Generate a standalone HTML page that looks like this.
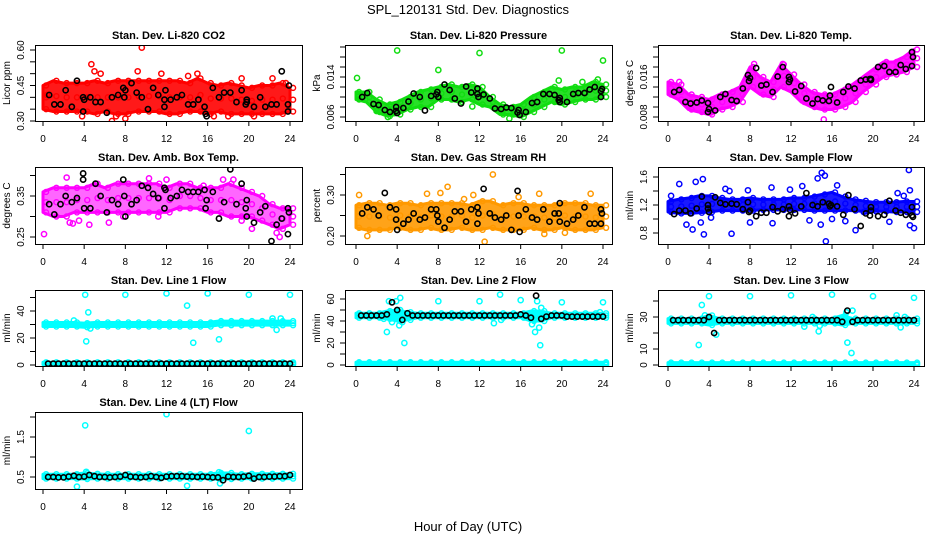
<!DOCTYPE html>
<html><head><meta charset="utf-8"><style>
body{margin:0;background:#fff;}
svg{display:block;font-family:"Liberation Sans",sans-serif;}
</style></head><body>
<svg id="chart" width="936" height="540" viewBox="0 0 936 540" xmlns="http://www.w3.org/2000/svg">
<rect width="936" height="540" fill="#fff"/>
<text x="468" y="14" text-anchor="middle" font-size="13">SPL_120131  Std. Dev. Diagnostics</text>
<text x="468" y="531" text-anchor="middle" font-size="13">Hour of Day (UTC)</text>
</svg>
<script>
const hours=[0,1,2,3,4,5,6,7,8,9,10,11,12,13,14,15,16,17,18,19,20,21,22,23,24];
const xTicks=[0,4,8,12,16,20,24];
const meanT=[0.6,1.1,1.7,2.2,2.8,3.3,3.9,3.9,4.0,4.6,5.1,5.6,6.2,6.7,7.3,7.8,7.9,8.0,8.6,9.1,9.6,10.2,10.7,11.2,11.8,11.8,11.9,12.4,13.0,13.5,14.1,14.6,15.1,15.7,15.8,15.9,16.5,17.1,17.6,18.2,18.8,19.3,19.7,19.8,19.8,20.5,21.1,21.6,22.2,22.7,23.2,23.8,23.8,23.9];
const flowT=[0.5,1,1.5,2,2.5,3,3.5,4,4.5,5,5.5,6,6.5,7,7.5,8,8.5,9,9.5,10,10.5,11,11.5,12,12.5,13,13.5,14,14.5,15,15.5,16,16.5,17,17.5,18,18.5,19,19.5,20,20.5,21,21.5,22,22.5,23,23.5,24];

// CO2
const co2Lo=[0.35,0.34,0.34,0.34,0.34,0.33,0.34,0.33,0.33,0.34,0.34,0.34,0.33,0.33,0.34,0.34,0.33,0.34,0.33,0.33,0.33,0.33,0.33,0.33,0.34];
const co2Hi=[0.45,0.47,0.46,0.46,0.46,0.47,0.46,0.47,0.47,0.47,0.47,0.47,0.47,0.47,0.46,0.48,0.46,0.45,0.46,0.45,0.44,0.45,0.45,0.46,0.44];
const co2OutX=[4.7,5,5.6,6.7,9.6,9.2,11.5,15,8,16.6,19.3,22.3,3.8,7.1,14.1,23.6,0.4,18,20.5];
const co2OutY=[0.54,0.51,0.50,0.30,0.61,0.51,0.50,0.50,0.31,0.32,0.48,0.48,0.32,0.32,0.49,0.46,0.41,0.32,0.32];
const co2Mean=[.41,.37,.37,.43,.36,.47,.40,.34,.39,.40,.38,.38,.335,.40,.41,.44,.40,.43,.46,.42,.40,.35,.44,.41,.39,.36,.43,.39,.40,.41,.37,.37,.39,.36,.33,.32,.44,.40,.42,.42,.38,.43,.37,.39,.38,.36,.40,.36,.37,.37,.51,.34,.37,.45];
// Pressure
const presLo=[.0095,.009,.007,.0062,.0065,.0075,.008,.008,.0095,.0095,.009,.0095,.0085,.008,.0065,.0065,.006,.007,.008,.009,.0085,.009,.0095,.0095,.010];
const presHi=[.011,.011,.0095,.0085,.009,.010,.011,.0115,.012,.0125,.012,.0125,.012,.010,.0085,.008,.0085,.010,.011,.012,.0115,.012,.012,.013,.0125];
const presOutX=[0.1,4,8,12,20,24,11.3,14.9,2,3.1,19.7,22,23.5];
const presOutY=[.0138,.0193,.0154,.0188,.0193,.0173,.0081,.0057,.0072,.0060,.0133,.0130,.0135];
const presMean=[.0100,.0108,.0086,.0084,.0074,.0070,.0072,.0080,.0068,.0078,.0091,.0107,.0100,.0073,.0102,.0105,.0110,.0100,.0125,.0114,.0097,.0087,.0121,.0109,.0117,.0106,.0100,.0105,.0097,.0077,.0076,.0079,.0078,.0069,.0074,.0064,.0070,.0088,.0090,.0106,.0106,.0104,.0094,.0090,.0098,.0090,.0106,.0108,.0108,.0115,.0120,.0112,.0100,.0116];
// Li-820 Temp
const tempLo=[.0125,.0115,.0095,.0090,.0085,.0095,.0100,.0110,.0140,.0125,.0120,.0140,.0130,.0110,.0100,.0095,.0095,.0100,.0110,.0130,.0145,.0160,.0165,.0170,.0180];
const tempHi=[.0150,.0145,.0125,.0120,.0115,.0125,.0130,.0140,.0180,.0160,.0150,.0185,.0165,.0145,.0130,.0125,.0125,.0135,.0145,.0160,.0175,.0190,.0190,.0200,.0215];
const tempOutX=[15.2,4.2,1.1,8.4,11.2];
const tempOutY=[.0075,.0089,.0150,.0186,.0186];
const tempMean=[.0130,.0134,.0110,.0107,.0109,.0113,.0108,.0090,.0096,.0093,.0120,.0126,.0114,.0112,.0137,.0164,.0152,.0158,.0178,.0143,.0145,.0130,.0161,.0180,.0160,.0150,.0155,.0131,.0142,.0117,.0107,.0116,.0113,.0112,.0123,.0140,.0109,.0130,.0141,.0137,.0153,.0155,.0156,.0156,.0154,.0180,.0182,.0170,.0170,.0184,.0176,.0182,.0210,.0200];
// Amb box temp
const boxLo=[.31,.30,.30,.31,.31,.31,.31,.31,.31,.31,.31,.31,.31,.32,.32,.32,.31,.31,.30,.30,.30,.29,.28,.27,.28];
const boxHi=[.36,.37,.37,.37,.37,.38,.37,.38,.38,.38,.38,.38,.37,.38,.38,.37,.37,.37,.38,.37,.36,.35,.33,.32,.32];
const boxOutX=[0.1,2.3,2.6,2.9,4.5,7.8,10.3,12,15.6,17.5,18.5,19.3,20.3,22.7,23,3.5,6.4,11.2];
const boxOutY=[.257,.395,.285,.283,.280,.30,.393,.39,.375,.39,.39,.29,.27,.26,.25,.29,.285,.30];
const boxMean=[.33,.305,.33,.35,.335,.345,.405,.39,.32,.32,.38,.35,.31,.34,.33,.39,.35,.30,.33,.34,.375,.37,.355,.345,.32,.37,.365,.345,.35,.365,.36,.36,.36,.365,.32,.34,.36,.295,.335,.415,.33,.38,.32,.30,.34,.285,.31,.325,.24,.28,.295,.32,.257,.31];
// Gas stream RH
const rhLo=[.22,.215,.215,.215,.22,.215,.215,.22,.215,.215,.22,.215,.215,.22,.215,.215,.215,.22,.215,.215,.22,.215,.215,.215,.22];
const rhHi=[.275,.28,.28,.275,.28,.28,.275,.28,.28,.28,.28,.275,.285,.285,.275,.28,.28,.275,.275,.275,.28,.28,.28,.275,.275];
const rhOutX=[0.3,1.1,6.9,8.2,8.9,10.5,11.4,12.5,13.3,15.8,17.8,18.3,22.8,20.3];
const rhOutY=[.30,.20,.303,.305,.32,.29,.30,.186,.35,.295,.303,.205,.303,.208];
const rhMean=[.255,.27,.265,.25,.305,.27,.265,.24,.215,.23,.24,.255,.24,.245,.265,.265,.25,.235,.22,.24,.26,.26,.235,.265,.27,.23,.255,.315,.255,.245,.24,.25,.215,.31,.25,.21,.265,.245,.24,.265,.235,.255,.255,.28,.235,.23,.24,.25,.27,.23,.23,.265,.23,.255];
// Sample flow
const sfLo=[1.10,1.08,1.08,1.09,1.10,1.12,1.12,1.12,1.12,1.13,1.13,1.13,1.13,1.13,1.12,1.12,1.12,1.12,1.12,1.11,1.11,1.11,1.10,1.10,1.10];
const sfHi=[1.25,1.28,1.30,1.33,1.33,1.30,1.28,1.28,1.30,1.28,1.28,1.28,1.30,1.30,1.32,1.35,1.38,1.32,1.28,1.26,1.24,1.24,1.24,1.25,1.25];
const sfOutX=[1.1,0.3,1.8,2.4,2.7,3.2,3.4,3.5,4.2,5.6,6,6.2,7.8,8,10.1,10.2,11.9,13.1,13.8,14.6,15,15.3,15.4,14.9,16,16.5,17.3,18.3,19.1,21.6,22.4,23,23.5,23.6,23.6,24];
const sfOutY=[1.5,1.33,0.92,0.85,1.53,0.95,1.57,0.78,1.02,1.43,1.4,0.79,1.41,0.95,1.45,0.94,1.42,1.47,0.98,1.58,1.66,1.62,0.68,0.92,1.0,1.48,0.97,0.84,1.1,0.96,1.37,1.33,1.7,1.41,0.91,0.87];
const sfMean=[1.07,1.12,1.12,1.08,1.15,1.32,1.2,1.15,1.1,1.31,1.23,1.21,1.22,1.21,1.14,1.24,1.1,1.12,1.04,1.09,1.09,1.17,1.11,1.14,1.18,1.04,1.13,1.08,1.18,1.37,1.2,1.18,1.24,1.22,1.18,1.2,1.18,1.06,1.34,1.14,0.9,1.08,1.05,1.17,1.12,1.04,1.06,1.26,1.12,1.09,1.06,1.05,1.17,1.03];
// Line 1
const l1Lo=[28.5,28.5,28.5,28.5,28,28.5,28.5,28.5,28.5,28.5,28.5,28.5,28.5,28.5,28.5,28.5,28.5,29.5,29.5,29.5,29.5,29.5,29.5,29.5,29.5];
const l1Hi=[31.5,31.5,31.5,31.5,31,31.5,31.5,31.5,31.5,31.5,31.5,31.5,31.5,31.5,31.5,31.5,31.5,32.5,32.5,32.5,32.5,32.5,32.5,32.5,32.5];
const l1OutX=[4.1,8,12,16,20,24,4.4,14,4.2,14.6,17.1,3,22.3,22.7,23.1,4.6];
const l1OutY=[52,52,53,53,52,52,39,44,17.5,16.5,19,33,34.5,26,34.5,27];
const l1Mean=[1,1,1,1,1,1,1,1,1,1,1,1,1,1,1,1,1,1,1,1,1,1,1,1,1,1,1,1,1,1,1,1,1,1,1,1,1,1,1,1,1,1,1,1,1,1,1,1];
// Line 2
const l2Lo=[43,43,43,42,40,41,43,43,43,43,43,43,43,43,43,43,43,40,40,43,43,43,43,43,43];
const l2Hi=[47,47,47,49,50,48,47,47,47,47,47,47,47,47,47,47,47,49,49,47,47,47,47,47,47];
const l2OutX=[3,3.2,3.9,4.3,4.2,4.5,4.7,3.5,8,12,14,13.4,14.1,16,17.1,17.4,17.6,17.8,17.9,18,20,24,23.7,2.7];
const l2OutY=[30,58,58,61,36,39,20,39,58,58,64,38,41,59,37,30,58,34,18,52,57,57,48,42];
const l2Mean=[45,45,45,45,45,46,57,50,41,47,45,45,45,45,45,45,45,45,45,45,45,45,45,45,45,45,45,45,45,45,45,46,45,43,63,42,44,45,45,45,44,44,44,44,44,44,44,44];
// Line 3
const l3Lo=[26,26,26,26,25,26,26,26,26,26,26,26,26,26,26,26,26,25,26,26,26,26,26,26,26];
const l3Hi=[29,29,29,29,31,29,29,29,29,29,29,29,29,29,29,29,29,31,29,29,29,29,29,29,29];
const l3OutX=[3,3.3,3.6,4,4.7,8,12,16,20,24,13.3,14.1,14.7,14.8,17.5,17.9,17.4,18,22.3,22.7,23.1];
const l3OutY=[12.5,37.5,31,43,19,43,43.5,44,43,42,24,30,21,24.5,14,7.5,33,34,31,23.5,30];
const l3Mean=[28,28,28,28,28,28,28,30,20,28,28,28,28,28,28,28,28,28,28,28,28,28,28,28,28,28,28,28,28,28,28,28,28,27,34,27,28,28,28,28,28,28,28,28,28,28,28,28];
// Line 4
const l4Lo=[0.46,0.46,0.46,0.46,0.45,0.46,0.46,0.46,0.46,0.46,0.46,0.46,0.46,0.46,0.46,0.46,0.46,0.44,0.45,0.46,0.46,0.46,0.46,0.46,0.46];
const l4Hi=[0.57,0.57,0.57,0.57,0.60,0.58,0.57,0.57,0.57,0.57,0.57,0.57,0.57,0.57,0.57,0.57,0.57,0.60,0.60,0.57,0.58,0.58,0.58,0.58,0.58];
const l4OutX=[4.1,12,20,3.3,14,17.2,4.2,17.1];
const l4OutY=[1.79,2.07,1.65,0.26,0.28,0.34,0.63,0.62];
const l4Mean=[0.50,0.50,0.49,0.49,0.51,0.53,0.50,0.51,0.55,0.52,0.50,0.50,0.49,0.50,0.51,0.55,0.51,0.50,0.49,0.50,0.52,0.50,0.48,0.51,0.52,0.52,0.52,0.51,0.51,0.50,0.51,0.50,0.49,0.49,0.42,0.51,0.50,0.50,0.51,0.53,0.46,0.50,0.50,0.51,0.51,0.52,0.52,0.55];

const NS='http://www.w3.org/2000/svg';
const svg=document.getElementById('chart');
function mk(tag,attrs,parent){const e=document.createElementNS(NS,tag);for(const k in attrs)e.setAttribute(k,attrs[k]);(parent||svg).appendChild(e);return e;}
const cols=[{l:35,r:302,x0:43,x1:290},{l:345,r:612,x0:356,x1:603},{l:658,r:924,x0:668,x1:914}];
const rows=[{t:45,b:121},{t:167,b:244},{t:290,b:366},{t:412,b:489}];
let pid=0;
function panel(c,rw,cfg){
  const C=cols[c],R=rows[rw];pid++;
  const g=mk('g',{});
  
  
  const xs=v=>C.x0+v*(C.x1-C.x0)/24;
  const [v1,p1,v2,p2]=cfg.yref;
  const ys=v=>p1+(v-v1)*(p2-p1)/(v2-v1);
  const cp=mk('clipPath',{id:'cp'+pid},g);
  mk('rect',{x:C.l,y:R.t,width:C.r-C.l,height:R.b-R.t},cp);
  const data=mk('g',{'clip-path':'url(#cp'+pid+')'},g);
  function band(lo,hi,col,op,nm){
    let pts=hours.map((h,i)=>xs(h)+','+ys(hi[i]));
    pts=pts.concat(hours.slice().reverse().map((h,j)=>{const i=hours.length-1-j;return xs(h)+','+ys(lo[i]);}));
    const p=mk('polygon',{points:pts.join(' '),fill:col,'fill-opacity':op,stroke:col,'stroke-width':3,'stroke-linejoin':'round'},data);
    
    
    hours.forEach((h,i)=>{
      [lo[i],hi[i],(lo[i]+hi[i])/2].forEach(v=>{
        const e=mk('circle',{cx:xs(h+0.3),cy:ys(v),r:2.5,fill:'none',stroke:col,'stroke-width':1.4},data);
        
        
      });
    });
  }
  if(cfg.low)band(cfg.low[0],cfg.low[1],cfg.color,1,cfg.name+'-zero-band');
  band(cfg.lo,cfg.hi,cfg.color,cfg.op,cfg.name+'-cloud');
  cfg.outX.forEach((x,i)=>{
    const e=mk('circle',{cx:xs(x),cy:ys(cfg.outY[i]),r:2.6,fill:'none',stroke:cfg.color,'stroke-width':1.5},data);
    
    
  });
  cfg.mX.forEach((x,i)=>{
    const e=mk('circle',{cx:xs(x),cy:ys(cfg.mY[i]),r:2.6,fill:'none',stroke:'#000','stroke-width':1.6},data);
    
    
  });
  const box=mk('rect',{x:C.l+0.5,y:R.t+0.5,width:C.r-C.l,height:R.b-R.t,fill:'none',stroke:'#000','stroke-width':1},g);
  
  
  const xa=mk('g',{},g);
  
  
  xTicks.forEach(t=>{
    mk('line',{x1:xs(t),x2:xs(t),y1:R.b,y2:R.b+5,stroke:'#000'},xa);
    const tx=mk('text',{x:xs(t),y:R.b+21,'text-anchor':'middle','font-size':10},xa);tx.textContent=t;
  });
  const ya=mk('g',{},g);
  
  
  cfg.ticks.forEach((t,i)=>{
    const y=ys(t);
    mk('line',{x1:C.l-5,x2:C.l,y1:y,y2:y,stroke:'#000'},ya);
    if(cfg.labels[i]){const tx=mk('text',{x:C.l-11,y:y,'text-anchor':'middle','font-size':10,transform:'rotate(-90 '+(C.l-11)+' '+y+')'},ya);tx.textContent=cfg.labels[i];}
  });
  const cy=(R.t+R.b)/2;
  const yt=mk('text',{x:C.l-25,y:cy,'text-anchor':'middle','font-size':10,transform:'rotate(-90 '+(C.l-25)+' '+cy+')'},g);
  yt.textContent=cfg.ytitle;
  
  
  const tt=mk('text',{x:(C.l+C.r)/2,y:R.t-6,'text-anchor':'middle','font-size':11,'font-weight':'bold'},g);
  tt.textContent=cfg.title;
  
  
}
panel(0,0,{name:'co2',title:'Stan. Dev. Li-820 CO2',ytitle:'Licor ppm',color:'#ff0000',op:0.9,yref:[0.30,121,0.60,50],ticks:[.30,.35,.40,.45,.50,.55,.60],labels:['0.30','','','0.45','','','0.60'],lo:co2Lo,hi:co2Hi,outX:co2OutX,outY:co2OutY,mX:meanT,mY:co2Mean});
panel(1,0,{name:'pressure',title:'Stan. Dev. Li-820 Pressure',ytitle:'kPa',color:'#11dd11',op:0.9,yref:[0.006,117,0.020,47],ticks:[.006,.008,.010,.012,.014,.016,.018,.020],labels:['0.006','','','','0.014','','',''],lo:presLo,hi:presHi,outX:presOutX,outY:presOutY,mX:meanT,mY:presMean});
panel(2,0,{name:'li820-temp',title:'Stan. Dev. Li-820 Temp.',ytitle:'degrees C',color:'#ff00ff',op:0.9,yref:[0.008,117,0.022,47],ticks:[.008,.010,.012,.014,.016,.018,.020,.022],labels:['0.008','','','','0.016','','',''],lo:tempLo,hi:tempHi,outX:tempOutX,outY:tempOutY,mX:meanT,mY:tempMean});
panel(0,1,{name:'amb-box-temp',title:'Stan. Dev. Amb. Box Temp.',ytitle:'degrees C',color:'#ff00ff',op:0.6,yref:[0.25,237,0.35,196],ticks:[.25,.30,.35,.40],labels:['0.25','','0.35',''],lo:boxLo,hi:boxHi,outX:boxOutX,outY:boxOutY,mX:meanT,mY:boxMean});
panel(1,1,{name:'gas-rh',title:'Stan. Dev. Gas Stream RH',ytitle:'percent',color:'#ff9900',op:0.9,yref:[0.20,236,0.30,195],ticks:[.20,.25,.30,.35],labels:['0.20','','0.30',''],lo:rhLo,hi:rhHi,outX:rhOutX,outY:rhOutY,mX:meanT,mY:rhMean});
panel(2,1,{name:'sample-flow',title:'Stan. Dev. Sample Flow',ytitle:'ml/min',color:'#0000ff',op:0.9,yref:[0.8,233,1.6,177],ticks:[0.8,1.0,1.2,1.4,1.6],labels:['0.8','','1.2','','1.6'],lo:sfLo,hi:sfHi,outX:sfOutX,outY:sfOutY,mX:meanT,mY:sfMean});
panel(0,2,{name:'line1-flow',title:'Stan. Dev. Line 1 Flow',ytitle:'ml/min',color:'#00ffff',op:1,yref:[0,365,40,311],ticks:[0,10,20,30,40,50],labels:['0','','20','','40',''],lo:l1Lo,hi:l1Hi,low:[[0.3,0.3,0.3,0.3,0.3,0.3,0.3,0.3,0.3,0.3,0.3,0.3,0.3,0.3,0.3,0.3,0.3,0.3,0.3,0.3,0.3,0.3,0.3,0.3,0.3],[2,2,2,2,2,2,2,2,2,2,2,2,2,2,2,2,2,2,2,2,2,2,2,2,2]],outX:l1OutX,outY:l1OutY,mX:flowT,mY:l1Mean});
panel(1,2,{name:'line2-flow',title:'Stan. Dev. Line 2 Flow',ytitle:'ml/min',color:'#00ffff',op:1,yref:[0,365,60,299],ticks:[0,10,20,30,40,50,60],labels:['0','','20','','40','','60'],lo:l2Lo,hi:l2Hi,low:[[0,0,0,0,0,0,0,0,0,0,0,0,0,0,0,0,0,0,0,0,0,0,0,0,0],[2.5,2.5,2.5,2.5,2.5,2.5,2.5,2.5,2.5,2.5,2.5,2.5,2.5,2.5,2.5,2.5,2.5,2.5,2.5,2.5,2.5,2.5,2.5,2.5,2.5]],outX:l2OutX,outY:l2OutY,mX:flowT,mY:l2Mean});
panel(2,2,{name:'line3-flow',title:'Stan. Dev. Line 3 Flow',ytitle:'ml/min',color:'#00ffff',op:1,yref:[0,365,30,317],ticks:[0,10,20,30,40],labels:['0','10','','30',''],lo:l3Lo,hi:l3Hi,low:[[0,0,0,0,0,0,0,0,0,0,0,0,0,0,0,0,0,0,0,0,0,0,0,0,0],[1.5,1.5,1.5,1.5,1.5,1.5,1.5,1.5,1.5,1.5,1.5,1.5,1.5,1.5,1.5,1.5,1.5,1.5,1.5,1.5,1.5,1.5,1.5,1.5,1.5]],outX:l3OutX,outY:l3OutY,mX:flowT,mY:l3Mean});
panel(0,3,{name:'line4-flow',title:'Stan. Dev. Line 4 (LT) Flow',ytitle:'ml/min',color:'#00ffff',op:1,yref:[0.5,477,1.5,437],ticks:[0.5,1.0,1.5,2.0],labels:['0.5','','1.5',''],lo:l4Lo,hi:l4Hi,outX:l4OutX,outY:l4OutY,mX:flowT,mY:l4Mean});
</script>
</body></html>
